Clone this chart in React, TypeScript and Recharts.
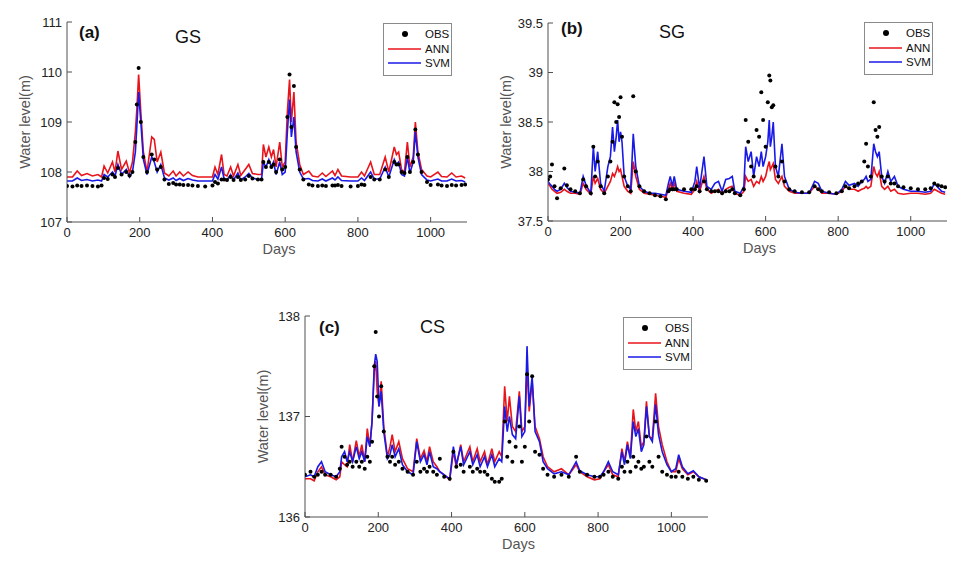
import { ComposedChart, Line, Scatter, XAxis, YAxis, Label } from "recharts";

const xTicks = [0, 200, 400, 600, 800, 1000];

// (a) GS
const gsDays = [
  0, 15, 28, 40, 55, 70, 85, 95, 102, 112,
  125, 132, 140, 150, 163, 172, 180, 188, 192, 197,
  203, 210, 220, 233, 240, 248, 258, 268, 280, 292,
  300, 310, 320, 333, 345, 360, 380, 400, 407, 415,
  425, 432, 440, 450, 458, 470, 478, 490, 500, 510,
  525, 535, 540, 547, 555, 562, 568, 575, 585, 592,
  600, 606, 612, 617, 624, 630, 640, 650, 665, 675,
  690, 702, 712, 730, 737, 745, 755, 780, 800, 810,
  818, 835, 845, 860, 875, 885, 900, 906, 912, 920,
  928, 936, 943, 952, 958, 965, 975, 990, 1000, 1020,
  1030, 1045, 1058, 1070, 1085, 1095,
];
const gsAnn = [
  107.9, 107.9, 108.02, 107.93, 107.97, 107.92, 107.95, 107.9, 108.12, 107.98,
  108.2, 108.0, 108.42, 108.05, 108.22, 107.98, 108.2, 108.8, 109.25, 109.95,
  109.2, 108.4, 108.0, 108.7, 108.65, 108.2, 108.4, 107.98, 107.92, 108.02,
  107.92, 108.0, 107.92, 108.0, 107.93, 107.9, 107.9, 107.9, 108.1, 107.95,
  108.35, 107.95, 107.92, 108.1, 107.92, 108.15, 107.93, 108.05, 108.15, 107.97,
  107.95, 107.95, 108.55, 108.3, 108.5, 108.3, 108.45, 108.1, 108.6, 108.1,
  108.2, 109.2, 109.85, 109.0, 109.6, 108.6, 108.15, 107.95, 108.02, 107.92,
  107.9, 107.98, 107.91, 108.02, 107.93, 108.05, 107.92, 107.9, 107.9, 108.0,
  107.92, 108.2, 107.95, 107.95, 108.3, 108.0, 108.5, 108.35, 108.4, 108.05,
  108.0, 108.6, 108.1, 108.3, 109.0, 108.4, 108.05, 107.92, 107.9, 108.0,
  107.91, 107.9, 107.98, 107.9, 107.92, 107.88,
];
const gsSvm = [
  107.82, 107.82, 107.88, 107.83, 107.85, 107.82, 107.84, 107.82, 107.95, 107.9,
  108.0, 107.92, 108.15, 107.95, 108.05, 107.9, 108.0, 108.4, 108.9, 109.6,
  109.0, 108.25, 107.95, 108.3, 108.2, 108.0, 108.15, 107.88, 107.84, 107.88,
  107.83, 107.87, 107.83, 107.87, 107.84, 107.82, 107.82, 107.82, 107.95, 107.86,
  108.1, 107.86, 107.84, 107.95, 107.84, 107.98, 107.84, 107.9, 107.97, 107.88,
  107.85, 107.85, 108.2, 108.1, 108.25, 108.1, 108.2, 107.95, 108.2, 107.95,
  108.0, 108.8, 109.45, 108.7, 109.1, 108.4, 108.0, 107.86, 107.87, 107.83,
  107.82, 107.86, 107.82, 107.88, 107.84, 107.9, 107.83, 107.82, 107.82, 107.88,
  107.83, 108.0, 107.86, 107.86, 108.1, 107.9, 108.25, 108.15, 108.2, 107.95,
  107.92, 108.3, 107.98, 108.2, 108.8, 108.3, 107.95, 107.84, 107.82, 107.86,
  107.82, 107.82, 107.86, 107.82, 107.83, 107.8,
];
const gsObs = [
  107.72, 107.71, 107.73, 107.72, 107.73, 107.72, 107.71, 107.73, 107.88, 107.86,
  107.95, 107.9, 108.08, 107.95, 108.0, 107.93, 108.0, 108.6, 109.35, 110.08,
  109.0, 108.3, 108.0, 108.35, 108.25, 108.05, 108.1, 107.85, 107.76, 107.78,
  107.75, 107.75, 107.74, 107.74, 107.73, 107.72, 107.71, 107.73, 107.8, 107.77,
  107.85, 107.85, 107.84, 107.9, 107.84, 107.9, 107.84, 107.85, 107.92, 107.87,
  107.85, 107.85, 108.2, 108.1, 108.2, 108.1, 108.15, 108.0, 108.25, 108.05,
  108.1, 109.1, 109.95, 108.9, 109.72, 108.5, 108.05, 107.85, 107.75, 107.73,
  107.72, 107.73, 107.72, 107.73, 107.73, 107.74, 107.72, 107.71, 107.72, 107.75,
  107.74, 107.9, 107.85, 107.85, 108.05, 107.9, 108.2, 108.15, 108.15, 108.0,
  107.98, 108.3, 108.0, 108.2, 108.85, 108.35, 108.0, 107.8, 107.74, 107.75,
  107.73, 107.72, 107.74, 107.73, 107.74, 107.75,
];
const gsTicks = [107, 108, 109, 110, 111];

// (b) SG
const sgDays = [
  0, 6, 11, 18, 25, 35, 45, 52, 62, 75,
  88, 97, 105, 118, 125, 130, 137, 145, 155, 165,
  172, 178, 183, 188, 192, 196, 200, 204, 210, 220,
  228, 235, 242, 252, 265, 280, 295, 310, 325, 332,
  337, 343, 348, 355, 375, 395, 405, 410, 418, 430,
  438, 450, 460, 470, 480, 490, 500, 508, 515, 530,
  540, 545, 552, 560, 567, 575, 582, 588, 593, 600,
  606, 610, 613, 617, 621, 627, 635, 645, 652, 665,
  680, 700, 720, 735, 745, 755, 775, 795, 810, 820,
  830, 845, 855, 865, 872, 877, 882, 890, 898, 903,
  908, 913, 920, 928, 937, 945, 955, 965, 980, 1000,
  1020, 1040, 1055, 1065, 1075, 1085, 1095,
];
const sgAnn = [
  37.88, 37.85, 37.82, 37.8, 37.78, 37.79, 37.82, 37.8, 37.78, 37.78,
  37.77, 37.88, 37.82, 37.77, 37.95, 37.88, 37.93, 37.82, 37.78, 37.85,
  37.9, 37.98, 37.95, 38.0, 38.05, 38.0, 38.02, 37.95, 37.85, 37.8,
  37.78, 38.1, 37.95, 37.82, 37.78, 37.77, 37.76, 37.75, 37.74, 37.82,
  37.88, 37.82, 37.88, 37.8, 37.78, 37.77, 37.82, 37.9, 37.8, 37.95,
  37.82, 37.78, 37.8, 37.82, 37.77, 37.82, 37.84, 37.85, 37.78, 37.76,
  37.8, 37.95, 37.9, 37.92, 37.85, 37.9, 37.88, 37.95, 37.9, 37.95,
  38.05, 38.1, 38.02, 38.05, 38.08, 37.92, 37.88, 37.95, 37.85, 37.8,
  37.78, 37.78, 37.78, 37.85, 37.82, 37.78, 37.78, 37.77, 37.8, 37.85,
  37.82, 37.82, 37.8, 37.82, 37.83, 37.85, 37.83, 37.85, 38.05, 37.98,
  37.95, 38.0, 37.85, 37.82, 37.85, 37.8, 37.82, 37.78, 37.77, 37.78,
  37.78, 37.77, 37.78, 37.82, 37.8, 37.78, 37.77,
];
const sgSvm = [
  37.9, 37.87, 37.85, 37.82, 37.8, 37.82, 37.88, 37.84, 37.8, 37.79,
  37.78, 37.95, 37.86, 37.78, 38.25, 38.0, 38.2, 37.88, 37.8, 38.05,
  38.15, 38.45, 38.2, 38.35, 38.52, 38.3, 38.4, 38.3, 37.95, 37.85,
  37.82, 38.38, 38.05, 37.85, 37.8, 37.78, 37.78, 37.77, 37.76, 37.88,
  37.95, 37.85, 37.95, 37.82, 37.8, 37.79, 37.9, 38.05, 37.83, 38.15,
  37.85, 37.82, 37.88, 37.9, 37.8, 37.92, 37.93, 37.95, 37.8, 37.78,
  37.85, 38.25, 38.1, 38.2, 37.95, 38.15, 38.05, 38.2, 38.05, 38.15,
  38.3, 38.52, 38.25, 38.35, 38.5, 38.05, 37.95, 38.28, 37.95, 37.82,
  37.79, 37.78, 37.78, 37.9, 37.88, 37.8, 37.78, 37.77, 37.82, 37.9,
  37.86, 37.88, 37.85, 37.9, 37.92, 37.95, 37.9, 37.92, 38.28, 38.2,
  38.15, 38.2, 37.95, 37.88, 38.0, 37.9, 37.95, 37.85, 37.82, 37.8,
  37.8, 37.79, 37.8, 37.88, 37.84, 37.8, 37.79,
];
const sgObs = [
  37.92, 37.95, 38.07, 37.85, 37.73, 37.83, 38.03, 37.86, 37.82, 37.8,
  37.78, 37.92, 37.85, 37.78, 38.25, 37.95, 38.1, 37.85, 37.78, 37.95,
  38.1, 38.3, 38.7, 38.5, 38.68, 38.55, 38.75, 38.35, 37.95, 37.85,
  37.8, 38.76, 38.0, 37.85, 37.8, 37.78, 37.76, 37.75, 37.72, 37.8,
  37.82, 37.82, 37.82, 37.82, 37.82, 37.82, 37.82, 37.85, 37.8, 37.9,
  37.82, 37.8, 37.8, 37.8, 37.78, 37.8, 37.8, 37.82, 37.78, 37.76,
  37.82, 38.52, 38.3, 38.05, 37.95, 38.42, 38.35, 38.8, 38.52, 38.25,
  38.7, 38.97, 38.92, 38.65, 38.67, 38.05, 37.95, 38.1, 37.9, 37.82,
  37.8, 37.79, 37.79, 37.85, 37.82, 37.8, 37.79, 37.78, 37.8, 37.85,
  37.83, 37.85, 37.88, 37.9, 38.1, 38.28, 38.05, 37.95, 38.7, 38.42,
  38.35, 38.45, 37.95, 37.9, 37.95, 37.88, 37.88, 37.85, 37.84, 37.83,
  37.82, 37.82, 37.83, 37.88, 37.86, 37.85, 37.84,
];
const sgTicks = [37.5, 38, 38.5, 39, 39.5];

// (c) CS
const csDays = [
  0, 15, 25, 35, 45, 55, 70, 85, 95, 100,
  108, 115, 122, 130, 140, 148, 155, 163, 170, 177,
  183, 189, 193, 197, 202, 208, 215, 225, 232, 238,
  246, 256, 266, 280, 295, 305, 315, 325, 333, 340,
  350, 360, 368, 380, 395, 405, 413, 425, 433, 450,
  458, 470, 478, 490, 498, 510, 518, 530, 537, 545,
  552, 558, 566, 575, 585, 592, 600, 606, 612, 620,
  628, 640, 650, 662, 680, 700, 720, 740, 750, 770,
  790, 805, 815, 828, 840, 855, 865, 872, 880, 888,
  896, 903, 910, 918, 925, 932, 940, 948, 957, 965,
  975, 988, 1000, 1012, 1020, 1030, 1045, 1060, 1075, 1095,
];
const csAnn = [
  136.38, 136.38, 136.36, 136.45, 136.5, 136.42, 136.4, 136.37, 136.4, 136.55,
  136.52, 136.5, 136.72, 136.55, 136.76, 136.6, 136.72, 136.55, 136.88, 136.7,
  136.95, 137.45, 137.55, 137.25, 137.1, 137.35, 136.9, 136.6, 136.7, 136.82,
  136.65, 136.75, 136.58, 136.48, 136.45, 136.78, 136.58, 136.66, 136.55, 136.7,
  136.55, 136.5, 136.45, 136.42, 136.37, 136.65, 136.5, 136.72, 136.55, 136.7,
  136.55, 136.68, 136.55, 136.65, 136.52, 136.68, 136.55, 136.65, 136.6, 137.3,
  136.95, 137.2, 136.9, 136.85, 137.25, 136.85, 136.9, 137.5, 137.05, 137.35,
  136.9, 136.78, 136.6, 136.5, 136.45, 136.48, 136.42, 136.52, 136.45, 136.4,
  136.37, 136.38, 136.45, 136.52, 136.42, 136.4, 136.68, 136.55, 136.75, 136.6,
  137.07, 136.85, 136.95, 136.7, 136.75, 137.15, 136.8, 136.78, 137.23, 136.9,
  136.72, 136.55, 136.45, 136.45, 136.58, 136.48, 136.42, 136.45, 136.4, 136.37,
];
const csSvm = [
  136.4, 136.42, 136.4, 136.5, 136.55, 136.45, 136.42, 136.4, 136.45, 136.6,
  136.65, 136.55, 136.65, 136.55, 136.7, 136.58, 136.65, 136.55, 136.8, 136.7,
  136.95, 137.5, 137.62, 137.55, 137.1, 137.25, 136.85, 136.58, 136.62, 136.72,
  136.6, 136.68, 136.52, 136.45, 136.42, 136.75, 136.55, 136.62, 136.52, 136.65,
  136.5, 136.48, 136.45, 136.42, 136.38, 136.7, 136.52, 136.7, 136.52, 136.65,
  136.52, 136.62, 136.5, 136.6, 136.5, 136.62, 136.5, 136.58, 136.55, 137.1,
  136.85, 137.0, 136.82, 136.78, 137.2, 136.8, 136.85, 137.7, 137.1, 137.4,
  136.85, 136.75, 136.55, 136.48, 136.43, 136.45, 136.42, 136.55, 136.46, 136.42,
  136.4, 136.4, 136.45, 136.55, 136.45, 136.42, 136.65, 136.52, 136.72, 136.58,
  136.95, 136.8, 136.88, 136.65, 136.72, 137.1, 136.8, 136.75, 137.12, 136.82,
  136.65, 136.52, 136.45, 136.48, 136.62, 136.5, 136.43, 136.46, 136.4, 136.37,
];
const csObs = [
  136.42, 136.45, 136.4, 136.42, 136.45, 136.42, 136.42, 136.4, 136.48, 136.7,
  136.6, 136.52, 136.55, 136.5, 136.55, 136.5, 136.55, 136.48, 136.6, 136.55,
  136.75, 137.5, 137.84, 137.2, 137.0, 137.3, 136.85, 136.6, 136.55, 136.6,
  136.52, 136.55, 136.48, 136.45, 136.42, 136.55, 136.45, 136.48, 136.45, 136.5,
  136.45, 136.42, 136.58, 136.4, 136.38, 136.65, 136.5, 136.52, 136.45, 136.5,
  136.45, 136.48, 136.45, 136.45, 136.42, 136.38, 136.35, 136.35, 136.38, 136.95,
  136.6, 136.75, 136.55, 136.7, 136.9, 136.55, 136.7, 137.42, 136.95, 137.4,
  136.65, 136.62, 136.48, 136.42, 136.4, 136.42, 136.4, 136.6, 136.45, 136.42,
  136.4, 136.4, 136.42, 136.45, 136.4, 136.38, 136.5, 136.45, 136.55, 136.45,
  136.6, 136.5, 136.55, 136.48, 136.5, 136.8, 136.55, 136.5, 136.95, 136.6,
  136.45, 136.42, 136.4, 136.4, 136.45, 136.4, 136.38, 136.4, 136.37, 136.36,
];
const csTicks = [136, 137, 138];

const RED = "#e8141b";
const BLUE = "#1a1ae6";
const AXIS = "#505050";

const panels = [
  {
    tag: "(a)", title: "GS", days: gsDays, ann: gsAnn, svm: gsSvm, obs: gsObs,
    yDomain: [107, 111], yTicks: gsTicks,
    left: 0, top: 0, width: 490, height: 280,
    margin: { top: 22, right: 23, bottom: 24, left: 17 },
    tagAt: [79, 33], titleAt: [175, 37], legendAt: [383, 23],
  },
  {
    tag: "(b)", title: "SG", days: sgDays, ann: sgAnn, svm: sgSvm, obs: sgObs,
    yDomain: [37.5, 39.5], yTicks: sgTicks,
    left: 480, top: 0, width: 486, height: 280,
    margin: { top: 23, right: 19, bottom: 25, left: 18 },
    tagAt: [561, 29], titleAt: [659, 32], legendAt: [864, 22],
  },
  {
    tag: "(c)", title: "CS", days: csDays, ann: csAnn, svm: csSvm, obs: csObs,
    yDomain: [136, 138], yTicks: csTicks,
    left: 240, top: 290, width: 500, height: 272,
    margin: { top: 26, right: 32, bottom: 11, left: 15 },
    tagAt: [319, 328], titleAt: [420, 327], legendAt: [623, 317],
  },
];

const blankTick = () => <g />;

const obsDot = (p: any) => <circle cx={p.cx} cy={p.cy} r={2} fill="#000" />;

function LegendBox({ x, y }: { x: number; y: number }) {
  const row = (icon: any, text: string) => (
    <div style={{ display: "flex", alignItems: "center", height: 14.5 }}>
      <svg width={36} height={10} style={{ marginLeft: 3 }}>{icon}</svg>
      <span style={{ marginLeft: 2 }}>{text}</span>
    </div>
  );
  return (
    <div
      style={{
        position: "absolute", left: x, top: y, width: 67, height: 48,
        border: "1px solid #8a8a8a", background: "#fff", fontSize: 11.5,
        color: "#111", paddingTop: 3, boxSizing: "content-box",
      }}
    >
      {row(<circle cx={18} cy={5} r={3} fill="#000" />, "OBS")}
      {row(<line x1={1} x2={34} y1={5} y2={5} stroke={RED} strokeWidth={1.3} />, "ANN")}
      {row(<line x1={1} x2={34} y1={5} y2={5} stroke={BLUE} strokeWidth={1.3} />, "SVM")}
    </div>
  );
}

function Panel({ cfg }: { cfg: any }) {
  const rows = cfg.days.map((d: number, i: number) => ({
    d,
    ann: cfg.ann[i],
    svm: cfg.svm[i],
    obs: cfg.obs[i],
  }));
  return (
    <>
      <div style={{ position: "absolute", left: cfg.left, top: cfg.top }}>
        <ComposedChart width={cfg.width} height={cfg.height} data={rows} margin={cfg.margin}>
          <XAxis
            dataKey="d" type="number" domain={[0, 1100]} ticks={xTicks}
            height={34} tickSize={-5} tickMargin={11} stroke={AXIS}
            tick={{ fill: "#222", fontSize: 13 }} allowDataOverflow
          >
            <Label value="Days" position="insideBottom" offset={2} dx={12}
              style={{ fill: "#555", fontSize: 14.5 }} />
          </XAxis>
          <XAxis
            xAxisId="top" orientation="top" dataKey="d" type="number" domain={[0, 1100]}
            ticks={xTicks} height={0} tickSize={-5} tick={blankTick} stroke={AXIS} allowDataOverflow
          />
          <YAxis
            type="number" domain={cfg.yDomain} ticks={cfg.yTicks} width={50}
            tickSize={-5} tickMargin={10} stroke={AXIS}
            tick={{ fill: "#222", fontSize: 13 }} allowDataOverflow
          >
            <Label value="Water level(m)" angle={-90} position="insideLeft" offset={8}
              style={{ textAnchor: "middle", fill: "#555", fontSize: 14.5 }} />
          </YAxis>
          <YAxis
            yAxisId="right" orientation="right" type="number" domain={cfg.yDomain}
            ticks={cfg.yTicks} width={0} tickSize={-5} tick={blankTick} stroke={AXIS} allowDataOverflow
          />
          <Line dataKey="ann" type="linear" stroke={RED} strokeWidth={1.6} dot={false} isAnimationActive={false} />
          <Line dataKey="svm" type="linear" stroke={BLUE} strokeWidth={1.6} dot={false} isAnimationActive={false} />
          <Scatter dataKey="obs" shape={obsDot} isAnimationActive={false} />
        </ComposedChart>
      </div>
      <div style={{ position: "absolute", left: cfg.tagAt[0], top: cfg.tagAt[1] - 9, fontSize: 17, fontWeight: "bold", lineHeight: "18px", color: "#111" }}>
        {cfg.tag}
      </div>
      <div style={{ position: "absolute", left: cfg.titleAt[0], top: cfg.titleAt[1] - 10, fontSize: 18, lineHeight: "20px", color: "#111" }}>
        {cfg.title}
      </div>
      <LegendBox x={cfg.legendAt[0]} y={cfg.legendAt[1]} />
    </>
  );
}

export default function App() {
  return (
    <div
      style={{
        position: "absolute", left: 0, top: 0, width: 966, height: 562,
        background: "#fff", fontFamily: "'Liberation Sans', Arial, sans-serif",
      }}
    >
      {panels.map((p) => (
        <Panel key={p.tag} cfg={p} />
      ))}
    </div>
  );
}
